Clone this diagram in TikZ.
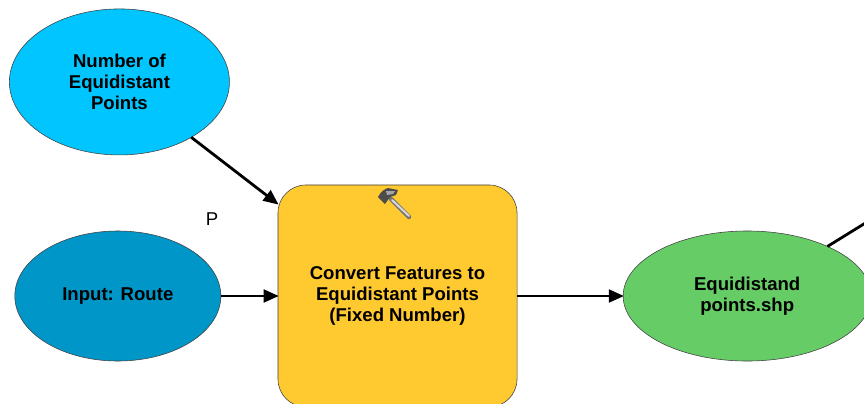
\documentclass[tikz,border=0pt]{standalone}
\usepackage{fontspec}
\setmainfont{Liberation Sans}
\usetikzlibrary{shapes.geometric,arrows.meta}

\begin{document}
\begin{tikzpicture}[x=0.025cm, y=-0.025cm, node distance={5cm},
		oval/.style = {draw=black!75, ellipse, inner sep=0pt, outer sep=0pt, align=center, font=\fontsize{13.2}{15}\bfseries\selectfont},
		tool/.style = {draw=black!75, rectangle, rounded corners=0.7cm, inner sep=0pt, outer sep=0pt, align=center, minimum width=5.975cm, minimum height=5.55cm, fill=yellow1, font=\fontsize{13.2}{15}\bfseries\selectfont},
		link/.style = {draw=black, line width=0.07cm, -{Triangle[length=0.38cm, width=0.32cm]}, shorten >=-0.02cm}]
		\definecolor{yellow1}{HTML}{FFC930}
		\definecolor{blue1}{HTML}{00C5FF}
		\definecolor{blue2}{HTML}{0096C8}
		\definecolor{green1}{HTML}{66CD66}
		\useasboundingbox (0,0) rectangle (864,403);
		\clip (0,0) rectangle (864,403);
		\node[tool] (convert) at (397.5,296) {Convert Features to\\Equidistant Points\\(Fixed Number)};
		\node[oval, fill=blue2, minimum width=5.15cm, minimum height=3.25cm] (route) [left of=convert, node distance=6.99cm] {Input: Route};
		\node[oval, fill=blue1, minimum width=5.5cm, minimum height=3.65cm, xshift=0.04cm] (number) [above of=route, node distance=5.35cm] {Number of\\Equidistant\\Points};
		\node[oval, fill=green1, minimum width=6.2cm, minimum height=3.25cm] (points) [right of=convert, node distance=8.74cm] {Equidistand\\points.shp};
		\node (p) at (212,219) {\fontsize{13.2}{15}\selectfont P};
		\coordinate (next) at (880,214);
		\draw[link] (number) -- (convert);
		\draw[link] (route) -- (convert);
		\draw[link] (convert) -- (points);
		\draw[draw=black, line width=0.07cm] (points) -- (next);
		% hammer
		\draw[line width=0.11cm, draw=black!55, line cap=round] (391,199) -- (409,217);
		\draw[line width=0.05cm, draw=black!15, line cap=round] (392,200) -- (409,216);
		\fill[black!70] (378,197) .. controls (381,191) and (385,189) .. (388,188) -- (398,190) -- (396,195) -- (390,197) -- (385,204) -- cycle;
		\fill[black!35] (386,191) -- (395,191) -- (393,194) -- (387,195) -- cycle;
	\end{tikzpicture}
\end{document}
